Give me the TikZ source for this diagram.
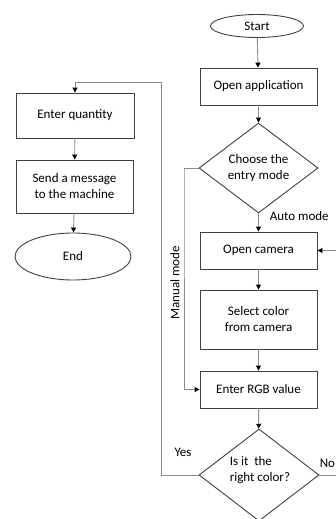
\documentclass[tikz,border=0pt]{standalone}
\usepackage{fontspec}
\setmainfont{Carlito}
\usepackage{tikz}
\usetikzlibrary{arrows.meta,positioning,shapes.geometric,calc}
\tikzset{every picture/.style={line width=0.9pt}}
\tikzset{font=\fontsize{13}{16}\selectfont}
\tikzstyle{blk}=[rectangle,draw=black!75,align=center,inner sep=0pt,minimum width=117pt,minimum height=37pt]
\tikzstyle{term}=[ellipse,draw=black!75,inner sep=0pt,minimum width=93pt,minimum height=23pt]
\tikzstyle{dec}=[diamond,draw=black!75,align=center,inner sep=0pt,minimum width=119pt,minimum height=90pt,shape aspect=1.32]
\tikzstyle{conn}=[draw=black!45,-{Triangle[black,length=5pt,width=5pt]}]

\begin{document}
\begin{tikzpicture}[x=1pt,y=-1pt]
\useasboundingbox (0,0) rectangle (336,519);
% main column
\node[term] (start) at (257,26) {Start};
\node[blk] (openapp) at (258.5,86.5) {Open application};
\node[dec] (choose) at (258.5,168) {Choose the\\entry mode};
\node[blk] (opencam) at (258.5,250.5) {Open camera};
\node[blk,minimum height=59pt] (select) at (258.5,319.5) {Select color\\from camera};
\node[blk] (rgb) at (258.5,389.5) {Enter RGB value};
\node[dec,minimum width=120pt,minimum height=92pt] (right) at (259,475) {};
\node[align=left,anchor=west] (righttxt) at (226,470) {Is it\ \ the\\right color?};
% left column
\node[blk,minimum width=118pt,minimum height=45pt] (qty) at (75,115.5) {Enter quantity};
\node[blk,minimum height=53pt] (send) at (74.5,186.5) {Send a message\\to the machine};
\node[term,minimum width=116pt,minimum height=47pt] (end) at (73,256.5) {End};
% turning points
\coordinate (yesc) at (161,82);
\coordinate (manc) at (184,170);
\coordinate (noc) at (345,475);
\path[conn]
(start) edge (openapp)
(openapp) edge (choose)
(choose) edge (opencam)
(opencam) edge (select)
(select) edge (rgb)
(rgb) edge (right)
(qty) edge (send)
(send) edge (end);
\draw[conn] (choose.west) -| (manc) |- (rgb.west);
\draw[conn] (right.west) -| (yesc) -| (qty.north);
\draw[conn] (right.east) -- (noc) |- (opencam.east);
% labels
\node[anchor=west] (auto) at (266,216) {Auto mode};
\node[rotate=90] (manual) at (175,283) {Manual mode};
\node (yes) at (183,452) {Yes};
\node[anchor=east,inner sep=0pt] (no) at (335.5,463) {No};
\end{tikzpicture}
\end{document}
